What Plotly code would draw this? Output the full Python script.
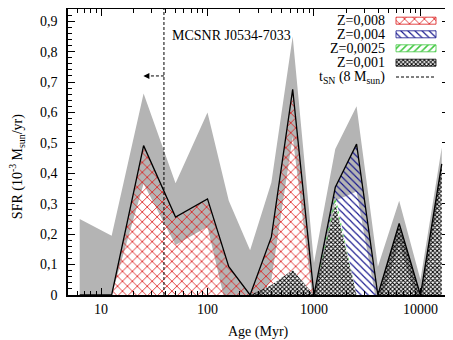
import numpy as np
import plotly.graph_objects as go

# ---------------- data ----------------
log_age = [6.8, 7.1, 7.4, 7.7, 8.0, 8.2, 8.4, 8.6, 8.8, 9.0, 9.2, 9.4, 9.6, 9.8, 10.0, 10.2]
sfr_z0001 = [0, 0, 0, 0, 0, 0, 0, 0.033, 0.082, 0, 0.300, 0, 0, 0.235, 0, 0.431]
sfr_z00025 = [0, 0, 0, 0, 0, 0, 0, 0, 0, 0, 0.027, 0, 0, 0, 0, 0]
sfr_z0004 = [0, 0, 0, 0, 0, 0, 0, 0, 0, 0, 0.027, 0.496, 0, 0, 0, 0]
sfr_z0008 = [0, 0, 0.491, 0.256, 0.316, 0.093, 0, 0.158, 0.594, 0, 0, 0, 0, 0, 0, 0]
err_upper = [0.25, 0.195, 0.662, 0.367, 0.600, 0.31, 0.147, 0.37, 0.85, 0.105, 0.48, 0.62, 0.093, 0.31, 0.05, 0.485]
err_lower = [0, 0, 0.366, 0.164, 0.224, -0.075, -0.05, 0.05, 0.52, -0.05, 0.31, 0.34, -0.05, 0.17, -0.05, 0.38]
t_sn_myr = 39.0          # lifetime of an 8 Msun star
arrow_to_myr = 25.0
arrow_y = 0.72
xticks = [10, 100, 1000, 10000]
yticks = [0, 0.1, 0.2, 0.3, 0.4, 0.5, 0.6, 0.7, 0.8, 0.9]
legend_labels = ["Z=0,008", "Z=0,004", "Z=0,0025", "Z=0,001", "t<sub>SN</sub> (8 M<sub>sun</sub>)"]
title_text = "MCSNR J0534-7033"

age = [10 ** (a - 6) for a in log_age]
total = (np.array(sfr_z0001) + np.array(sfr_z00025) + np.array(sfr_z0004) + np.array(sfr_z0008)).tolist()

FONT = "Liberation Serif"
GREY = "#b4b4b4"
RED = "#dc1818"
BLUE = "#10108a"
GREEN = "#40c840"
BLACK = "#000000"

styles = {
    "z0008": dict(shape="x", fgcolor=RED, size=7, solidity=0.22),
    "z0004": dict(shape="\\", fgcolor=BLUE, size=5, solidity=0.22),
    "z00025": dict(shape="/", fgcolor=GREEN, size=5, solidity=0.3),
    "z0001": dict(shape="x", fgcolor=BLACK, size=3, solidity=0.55),
}

fig = go.Figure()

# uncertainty band
fig.add_trace(go.Scatter(x=age, y=err_lower, mode="lines", line=dict(width=0), showlegend=False, hoverinfo="skip"))
fig.add_trace(go.Scatter(x=age, y=err_upper, mode="lines", line=dict(width=0), fill="tonexty",
                         fillcolor=GREY, showlegend=False, hoverinfo="skip"))

# stacked metallicity components
for key, vals in [("z0001", sfr_z0001), ("z00025", sfr_z00025), ("z0004", sfr_z0004), ("z0008", sfr_z0008)]:
    st = styles[key]
    fig.add_trace(go.Scatter(
        x=age, y=vals, mode="lines", stackgroup="sfh", line=dict(width=0),
        fillcolor="rgba(0,0,0,0)",
        fillpattern=dict(shape=st["shape"], fgcolor=st["fgcolor"], bgcolor="rgba(0,0,0,0)",
                         size=st["size"], solidity=st["solidity"], fillmode="replace"),
        showlegend=False, hoverinfo="skip"))

# total SFR line
fig.add_trace(go.Scatter(x=age, y=total, mode="lines", line=dict(color=BLACK, width=1.3),
                         showlegend=False, hoverinfo="skip"))

# t_SN line
fig.add_shape(type="line", xref="x", yref="paper", x0=t_sn_myr, x1=t_sn_myr, y0=0, y1=1,
              line=dict(color=BLACK, width=1, dash="3px,2px"))
fig.add_shape(type="line", xref="x", yref="y", x0=t_sn_myr, x1=arrow_to_myr * 1.06, y0=arrow_y, y1=arrow_y,
              line=dict(color=BLACK, width=1, dash="3px,2px"))
fig.add_annotation(x=np.log10(arrow_to_myr), y=arrow_y, xref="x", yref="y", ax=7, ay=0,
                   showarrow=True, arrowhead=2, arrowsize=1, arrowwidth=1.2, arrowcolor=BLACK, text="")

fig.add_annotation(x=0.268, y=0.909, xref="paper", yref="paper", xanchor="left", yanchor="middle",
                   text=title_text, showarrow=False, font=dict(family=FONT, size=14, color=BLACK))

# ---------------- manual legend on pixel-like overlay axes ----------------
row_y = [20.7, 34.3, 48.3, 62.7, 77.0]
box_x0, box_x1, box_h = 396, 436, 7
legend_keys = ["z0008", "z0004", "z00025", "z0001"]
for i, key in enumerate(legend_keys):
    st = styles[key]
    yc = row_y[i]
    fig.add_trace(go.Scatter(
        x=[box_x0, box_x1, box_x1, box_x0, box_x0],
        y=[yc - box_h / 2, yc - box_h / 2, yc + box_h / 2, yc + box_h / 2, yc - box_h / 2],
        xaxis="x2", yaxis="y2", mode="lines", fill="toself", fillcolor="rgba(0,0,0,0)",
        fillpattern=dict(shape=st["shape"], fgcolor=st["fgcolor"], bgcolor="rgba(0,0,0,0)",
                         size=st["size"], solidity=st["solidity"], fillmode="replace"),
        line=dict(color=st["fgcolor"], width=0.8), showlegend=False, hoverinfo="skip"))
fig.add_trace(go.Scatter(x=[box_x0, box_x1], y=[row_y[4], row_y[4]], xaxis="x2", yaxis="y2", mode="lines",
                         line=dict(color=BLACK, width=1, dash="3px,2px"), showlegend=False, hoverinfo="skip"))
for i, lab in enumerate(legend_labels):
    fig.add_annotation(x=387, y=row_y[i], xref="x2", yref="y2", xanchor="right", yanchor="middle",
                       text=lab, showarrow=False, font=dict(family=FONT, size=14, color=BLACK))

# axis titles
fig.add_annotation(x=0.5, y=-0.13, xref="paper", yref="paper", xanchor="center", yanchor="middle",
                   text="Age (Myr)", showarrow=False, font=dict(family=FONT, size=14, color=BLACK))
fig.add_annotation(x=-0.135, y=0.449, xref="paper", yref="paper", xanchor="center", yanchor="middle",
                   text="SFR (10<sup>-3</sup> M<sub>sun</sub>/yr)", textangle=-90, showarrow=False,
                   font=dict(family=FONT, size=14, color=BLACK))

axis_common = dict(showline=True, linecolor=BLACK, linewidth=1.5, mirror="ticks", ticks="inside",
                   tickcolor=BLACK, tickwidth=1.2, ticklen=7, showgrid=False, zeroline=False,
                   tickfont=dict(family=FONT, size=14, color=BLACK))
# the page adds an 8px body margin, so the figure margins are offset by it
fig.update_layout(
    width=453, height=340,
    margin=dict(l=60, r=12, t=1, b=53, autoexpand=False),
    paper_bgcolor="white", plot_bgcolor="white",
    showlegend=False,
    xaxis=dict(type="log", range=[0.69, 4.268], tickvals=xticks, ticktext=[str(v) for v in xticks],
               minor=dict(ticks="inside", ticklen=4, tickwidth=1, tickcolor=BLACK, dtick="D1"),
               ticklabelstandoff=0, **axis_common),
    yaxis=dict(range=[0, 0.94], tickvals=yticks,
               ticktext=[("0" if v == 0 else f"{v:.1f}".replace(".", ",")) for v in yticks],
               minor=dict(ticks="inside", ticklen=4, tickwidth=1, tickcolor=BLACK, dtick=0.02),
               ticklabelstandoff=6, **axis_common),
    xaxis2=dict(range=[68, 449], overlaying="x", visible=False, fixedrange=True),
    yaxis2=dict(range=[295, 9], overlaying="y", visible=False, fixedrange=True, anchor="x2"),
)

fig.write_html("out.html")
